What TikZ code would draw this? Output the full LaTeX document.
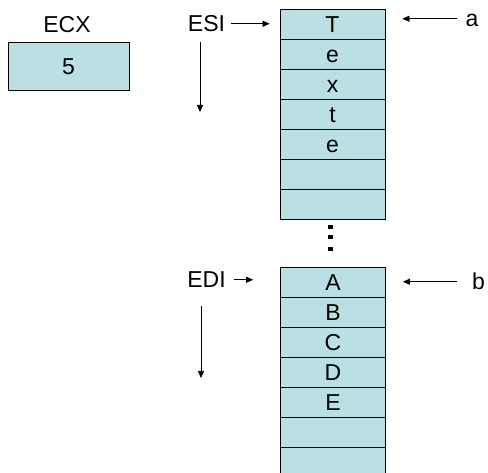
\documentclass[tikz,border=0pt]{standalone}
\usepackage{fontspec}
\setmainfont{Liberation Sans}
\usetikzlibrary{arrows.meta}
\definecolor{cellfill}{RGB}{187,224,227}
\tikzset{
	cell/.style={draw, line width=0.8pt, fill=cellfill, minimum width=105pt, minimum height=30pt, inner sep=0pt, text height=17.5pt, text depth=0pt, font=\fontsize{23}{27}\selectfont},
	lbl/.style={anchor=base, inner sep=3pt, text height=16.5pt, text depth=0pt, font=\fontsize{23}{27}\selectfont},
	arr/.style={-{Triangle[length=7pt,width=6pt]}, line width=0.75pt},
}
\begin{document}
\begin{tikzpicture}[x=1pt,y=-1pt]
	\useasboundingbox (0,0) rectangle (488,473);
	\clip (0,0) rectangle (488,473);
	\node[lbl] (ecx) at (67,33) {ECX};
	\node[cell, minimum width=121pt, minimum height=48pt] (cnt) at (68.5,66) {5};
	\foreach \l [count=\i from 0] in {T,e,x,t,e,{},{}}
		\node[cell] (src\i) at (332.5,{24+30*\i}) {\l};
	\foreach \l [count=\i from 0] in {A,B,C,D,E,{},{}}
		\node[cell] (dst\i) at (333,{282+30*\i}) {\l};
	\foreach \y in {225,235,247}
		\fill (328.3,\y) rectangle ++(4.4,4.4);
	\node[lbl] (esi) at (206.5,32) {ESI};
	\node[lbl] (edi) at (206.5,288) {EDI};
	\node[lbl] (ptra) at (472,27) {a};
	\node[lbl] (ptrb) at (478.5,290) {b};
	\draw[arr, shorten <=3pt, shorten >=10pt] (esi.east) -- (esi.east -| src0.west);
	\draw[arr, shorten <=5pt, shorten >=27pt] (edi.east) -- (edi.east -| dst0.west);
	\draw[arr, shorten <=5pt, shorten >=17pt] (ptra.west) -- (ptra.west -| src0.east);
	\draw[arr, shorten <=12pt, shorten >=17pt] (ptrb.west) -- (ptrb.west -| dst0.east);
	\coordinate (esitop) at (200,42);
	\coordinate (esibot) at (200,112);
	\draw[arr] (esitop) -- (esibot);
	\coordinate (editop) at (201,306);
	\coordinate (edibot) at (201,378);
	\draw[arr] (editop) -- (edibot);
\end{tikzpicture}
\end{document}
